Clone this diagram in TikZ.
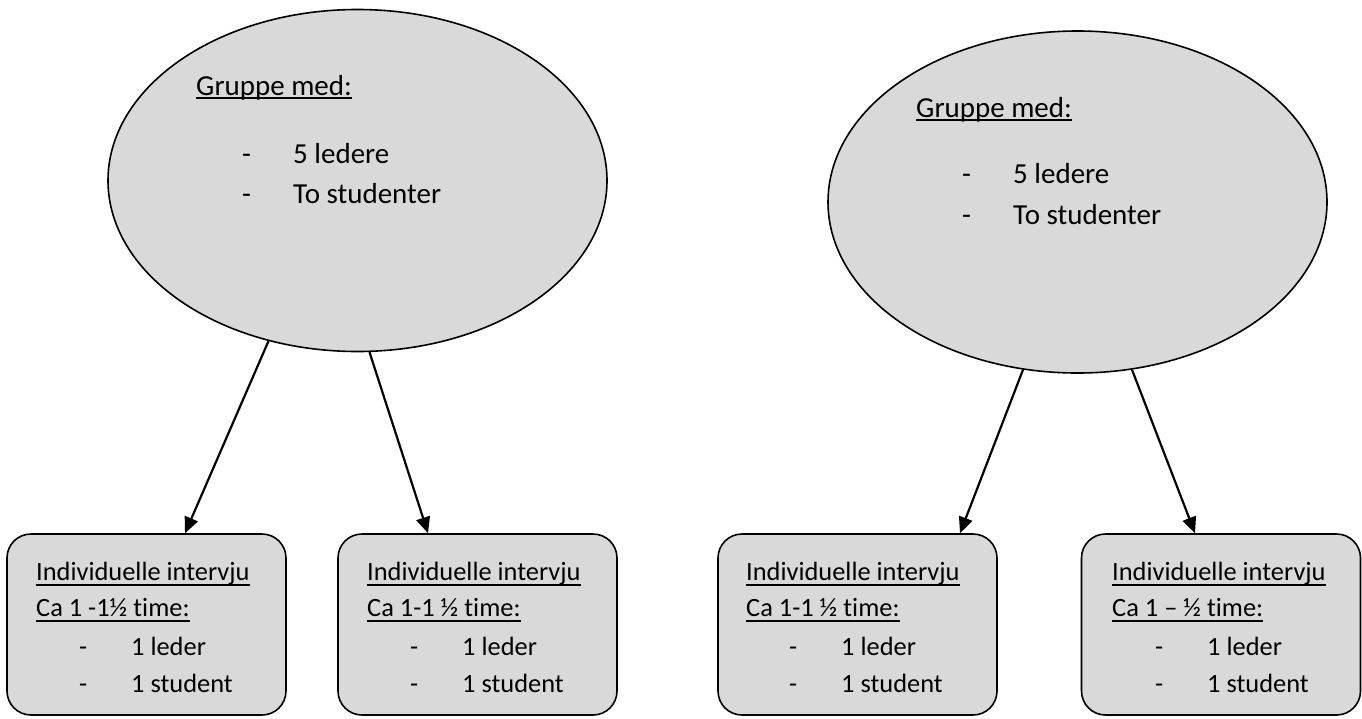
\documentclass[tikz,border=0pt]{standalone}
\usepackage{fontspec}
\setmainfont{Carlito}[Ligatures=NoCommon]
\usetikzlibrary{arrows.meta,shapes.geometric}
\definecolor{shade}{HTML}{D9D9D9}
\begin{document}
\begin{tikzpicture}[x=1pt,y=-1pt,
  bubble/.style={draw, fill=shade, line width=1.6pt, ellipse, inner sep=0pt, minimum width=499pt, minimum height=342pt},
  card/.style={draw, fill=shade, line width=1.6pt, rounded corners=24pt, rectangle, inner sep=0pt, minimum width=279pt, minimum height=181pt},
  big/.style={anchor=base west, inner sep=0pt, font=\fontsize{29}{35}\selectfont},
  small/.style={anchor=base west, inner sep=0pt, font=\fontsize{26.4}{32}\selectfont},
  arr/.style={line width=2.2pt, -{Triangle[length=16pt,width=14pt]}},
  ulbig/.style={line width=1.6pt},
  ulsmall/.style={line width=1.5pt}
]
\useasboundingbox (0,0) rectangle (1362,718);

% ellipses
\node[bubble] (e1) at (357.5,180.5) {};
\node[bubble] (e2) at (1077.5,202) {};

% boxes
\node[card] (b1) at (146.5,624.5) {};
\node[card] (b2) at (477.5,624.5) {};
\node[card] (b3) at (857.5,624.5) {};
\node[card] (b4) at (1221,624.5) {};

% ellipse texts
\node[big] (g1) at (196,95) {Gruppe med:};
\draw[ulbig] ([yshift=-3pt]g1.base west) -- ([yshift=-3pt]g1.base east);
\node[big] (g1d1) at (242,163) {-};
\node[big] (g1a) at (293,163) {5 ledere};
\node[big] (g1d2) at (242,203) {-};
\node[big] (g1b) at (293,203) {To studenter};

\node[big] (g2) at (916,117) {Gruppe med:};
\draw[ulbig] ([yshift=-3pt]g2.base west) -- ([yshift=-3pt]g2.base east);
\node[big] (g2d1) at (962,183) {-};
\node[big] (g2a) at (1013,183) {5 ledere};
\node[big] (g2d2) at (962,224) {-};
\node[big] (g2b) at (1013,224) {To studenter};

% box texts
\node[small] (i1) at (36,580) {Individuelle intervju};
\node[small] (c1) at (36,616) {Ca 1 -1½ time:};
\node[small] (d1a) at (79,655) {-};
\node[small] (l1) at (131,655) {1 leder};
\node[small] (d1b) at (79,692) {-};
\node[small] (s1) at (131,692) {1 student};

\node[small] (i2) at (367,580) {Individuelle intervju};
\node[small] (c2) at (367,616) {Ca 1-1 ½ time:};
\node[small] (d2a) at (410,655) {-};
\node[small] (l2) at (462,655) {1 leder};
\node[small] (d2b) at (410,692) {-};
\node[small] (s2) at (462,692) {1 student};

\node[small] (i3) at (746,580) {Individuelle intervju};
\node[small] (c3) at (746,616) {Ca 1-1 ½ time:};
\node[small] (d3a) at (789,655) {-};
\node[small] (l3) at (841,655) {1 leder};
\node[small] (d3b) at (789,692) {-};
\node[small] (s3) at (841,692) {1 student};

\node[small] (i4) at (1112,580) {Individuelle intervju};
\node[small] (c4) at (1112,616) {Ca 1 – ½ time:};
\node[small] (d4a) at (1155,655) {-};
\node[small] (l4) at (1207,655) {1 leder};
\node[small] (d4b) at (1155,692) {-};
\node[small] (s4) at (1207,692) {1 student};

\foreach \n in {i1,c1,i2,c2,i3,c3,i4,c4}
  \draw[ulsmall] ([yshift=-5pt]\n.base west) -- ([yshift=-5pt]\n.base east);

% arrows
\draw[arr] (e1.-119.7) -- ([xshift=38.5pt]b1.north);
\draw[arr] (e1.-86.2) -- ([xshift=-49.5pt]b2.north);
\draw[arr] (e2.-108.6) -- ([xshift=102.5pt]b3.north);
\draw[arr] (e2.-72.6) -- ([xshift=-26pt]b4.north);
\end{tikzpicture}
\end{document}
